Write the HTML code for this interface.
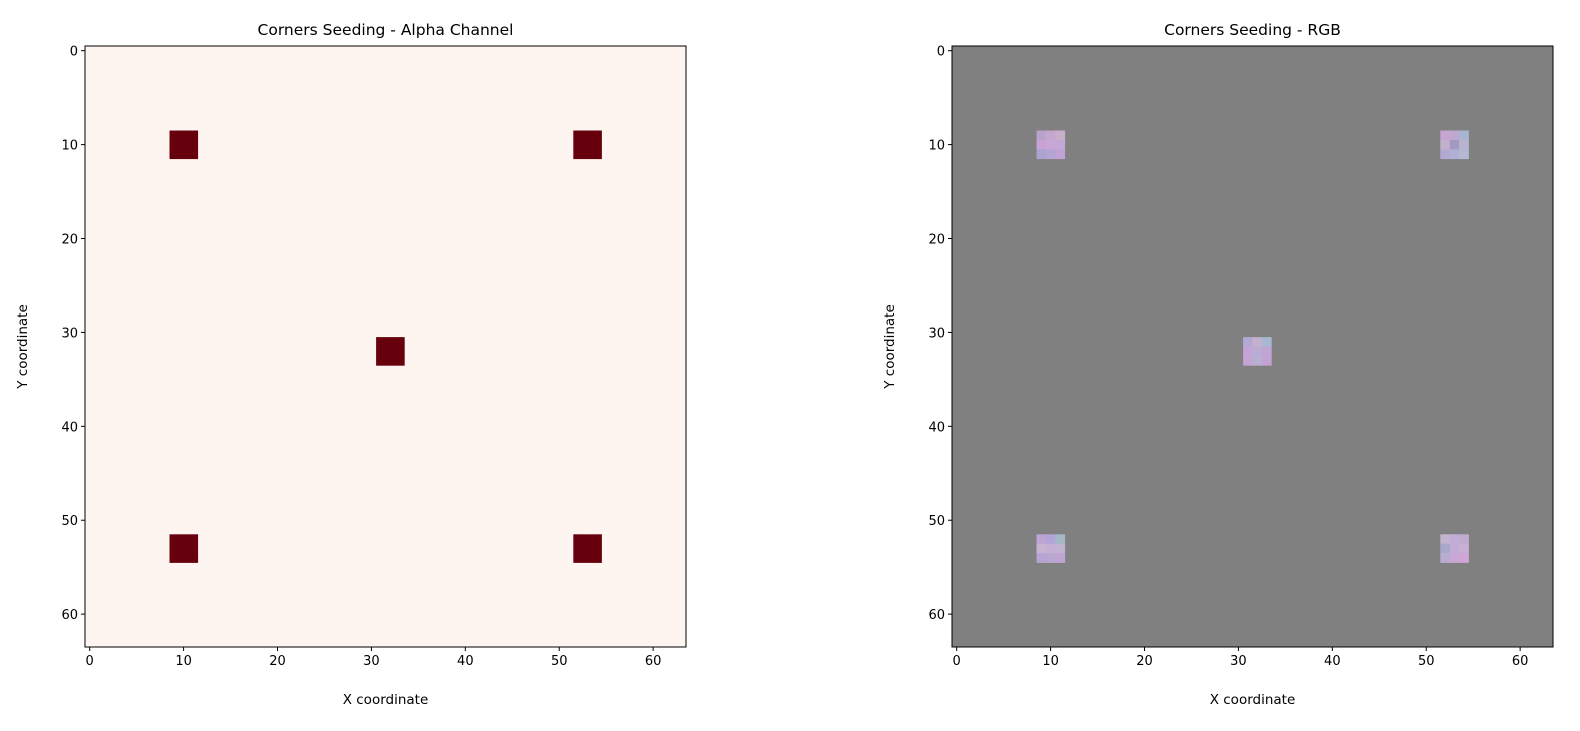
<!DOCTYPE html>
<html><head><meta charset="utf-8"><style>
html,body{margin:0;padding:0;background:#fff;overflow:hidden;font-family:"Liberation Sans","DejaVu Sans",sans-serif}
svg{display:block}
</style></head><body>
<svg id="fig" width="1580" height="731" xmlns="http://www.w3.org/2000/svg" font-family="DejaVu Sans, Liberation Sans, sans-serif"></svg>
<script>
const gridSize = 64;
const tickValues = [0,10,20,30,40,50,60];
const seedCenters = [[10,10],[53,10],[32,32],[10,53],[53,53]];
const alphaBackground = 0.0;
const alphaSeed = 1.0;
const rgbPatches = [
 [["#b7a3cc","#c5a6cc","#c8b0cc"],["#c8a3d6","#c9a6d8","#c3a7d6"],["#aca3cf","#b4a5d6","#c0a3d4"]],
 [["#c8a6d4","#bfa8d0","#a9b4d2"],["#c4b0cc","#a399c4","#b8b4d0"],["#b2a8d2","#b0b0d4","#b4b8d0"]],
 [["#b4a8d4","#c4b0cc","#a8b8d0"],["#c4a4d4","#b8acd4","#c0a4d4"],["#c4a4d4","#b8b0d0","#c2a2d2"]],
 [["#bca4d4","#b0a4d8","#a4b8c8"],["#c8b4d0","#c4b0d4","#c0b4d0"],["#b8a4d4","#b8a8d0","#c0a4d4"]],
 [["#c4b4d0","#c4acd8","#c0acd0"],["#a8a8cc","#c0acd4","#c8b0d4"],["#b8acd0","#c8a8d4","#d0a4d4"]]
];
const NS="http://www.w3.org/2000/svg";
const svg=document.getElementById('fig');
function mk(tag,attrs,parent){const e=document.createElementNS(NS,tag);for(const k in attrs)e.setAttribute(k,attrs[k]);(parent||svg).appendChild(e);return e;}
function reds(v){
  const c0=[255,245,240],c1=[103,0,13];
  return `rgb(${c0.map((a,i)=>Math.round(a+(c1[i]-a)*v)).join(',')})`;
}
function panel(x0,y0,w,title,kind){
  const cell=w/gridSize;
  const sx=v=>x0+(v+0.5)*cell, sy=v=>y0+(v+0.5)*cell;
  const g=mk('g',{});
  
  
  const bg=mk('rect',{x:x0,y:y0,width:w,height:w,fill:kind==='alpha'?reds(alphaBackground):'#808080'},g);
  
  
  seedCenters.forEach((c,si)=>{
    for(let dy=-1;dy<=1;dy++)for(let dx=-1;dx<=1;dx++){
      const fill=kind==='alpha'?reds(alphaSeed):rgbPatches[si][dy+1][dx+1];
      const r=mk('rect',{x:sx(c[0]+dx)-cell/2,y:sy(c[1]+dy)-cell/2,width:cell+0.4,height:cell+0.4,fill:fill},g);
      
      
    }
  });
  const fr=mk('rect',{x:x0,y:y0,width:w,height:w,fill:'none',stroke:'#000','stroke-width':1},g);
  
  
  tickValues.forEach(t=>{
    mk('line',{x1:sx(t),x2:sx(t),y1:y0+w,y2:y0+w+4,stroke:'#000'},g);
    const tx=mk('text',{x:sx(t),y:y0+w+18,'text-anchor':'middle','font-size':13},g);tx.textContent=t;
    
    
    mk('line',{x1:x0-4,x2:x0,y1:sy(t),y2:sy(t),stroke:'#000'},g);
    const ty=mk('text',{x:x0-7,y:sy(t)+5,'text-anchor':'end','font-size':13},g);ty.textContent=t;
    
    
  });
  const tt=mk('text',{x:x0+w/2,y:y0-11,'text-anchor':'middle','font-size':15.5},g);tt.textContent=title;
  
  
  const xl=mk('text',{x:x0+w/2,y:y0+w+57,'text-anchor':'middle','font-size':13.5},g);xl.textContent='X coordinate';
  
  
  const yl=mk('text',{x:0,y:0,'text-anchor':'middle','font-size':13.5,transform:`translate(${x0-58},${y0+w/2}) rotate(-90)`},g);yl.textContent='Y coordinate';
  
  
}
panel(85,46,601,'Corners Seeding - Alpha Channel','alpha');
panel(952,46,601,'Corners Seeding - RGB','rgb');
</script>
</body></html>
